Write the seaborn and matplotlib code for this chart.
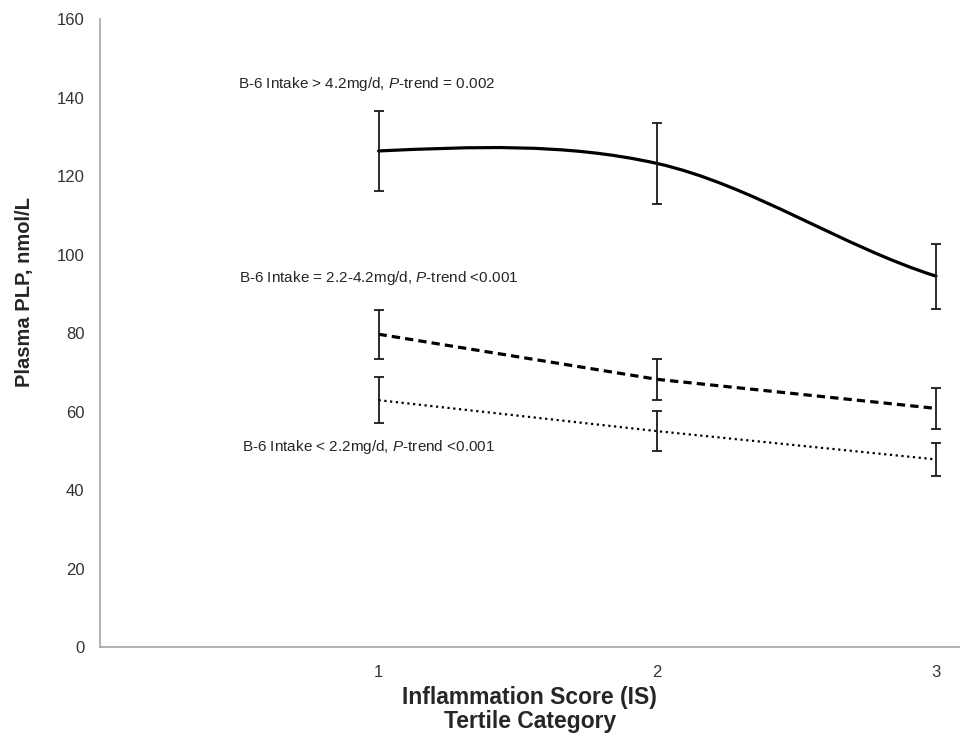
import numpy as np
import pandas as pd
import matplotlib
matplotlib.use("Agg")
import matplotlib.pyplot as plt
from matplotlib.path import Path
from matplotlib.patches import PathPatch
import seaborn as sns

# values (mean, +/- error)
tertile = [1, 2, 3]
high_mean = [126.4, 123.2, 94.5]
high_err = [10.3, 10.2, 8.3]
mid_mean = [79.7, 68.2, 60.8]
mid_err = [6.3, 5.3, 5.2]
low_mean = [62.9, 55.0, 47.8]
low_err = [5.8, 5.1, 4.2]

high_label = "B-6 Intake > 4.2mg/d, $\\mathit{P}$-trend = 0.002"
mid_label = "B-6 Intake = 2.2-4.2mg/d, $\\mathit{P}$-trend <0.001"
low_label = "B-6 Intake < 2.2mg/d, $\\mathit{P}$-trend <0.001"

sns.set_style("white")
plt.rcParams['font.family'] = ['Liberation Sans', 'DejaVu Sans']
plt.rcParams['mathtext.fontset'] = 'custom'
plt.rcParams['mathtext.it'] = 'Liberation Sans:italic'
plt.rcParams['mathtext.rm'] = 'Liberation Sans'

df = pd.DataFrame({
    "tertile": tertile * 3,
    "plp": high_mean + mid_mean + low_mean,
    "group": ["high"] * 3 + ["mid"] * 3 + ["low"] * 3,
})

fig = plt.figure(figsize=(9.6, 7.34), dpi=100)
ax = fig.add_axes([0.104, 0.1185, 0.896, 0.8555])

# smoothed line for the high intake group (natural cubic spline as bezier)
x = np.array(tertile, dtype=float)
y = np.array(high_mean)
M2 = 1.5 * (y[0] - 2 * y[1] + y[2])
s0 = (y[1] - y[0]) - M2 / 6
s1 = (y[1] - y[0]) + M2 / 3
s2 = (y[2] - y[1]) - M2 / 6
slopes = [s0, s1, s2]
verts = [(x[0], y[0])]
codes = [Path.MOVETO]
for i in range(2):
    h = x[i + 1] - x[i]
    verts += [(x[i] + h / 3, y[i] + slopes[i] * h / 3),
              (x[i + 1] - h / 3, y[i + 1] - slopes[i + 1] * h / 3),
              (x[i + 1], y[i + 1])]
    codes += [Path.CURVE4] * 3
ax.add_patch(PathPatch(Path(verts, codes), facecolor="none",
                       edgecolor="black", lw=2.3, capstyle="round"))

sns.lineplot(data=df[df.group == "mid"], x="tertile", y="plp", ax=ax,
             color="black", lw=2.3, dashes=False, legend=False)
ax.lines[-1].set_dashes((2.6, 1.6))
sns.lineplot(data=df[df.group == "low"], x="tertile", y="plp", ax=ax,
             color="black", lw=1.6, legend=False)
ax.lines[-1].set_dashes((1, 1.6))

for m, e in [(high_mean, high_err), (mid_mean, mid_err), (low_mean, low_err)]:
    ax.errorbar(tertile, m, yerr=e, fmt="none", ecolor="#1a1a1a",
                elinewidth=1.3, capsize=3.5, capthick=1.3)

ax.text(0.495, 143.4, high_label, fontsize=11, va="center", ha="left")
ax.text(0.50, 94.0, mid_label, fontsize=11, va="center", ha="left")
ax.text(0.51, 51.0, low_label, fontsize=11, va="center", ha="left")

ax.set_xlim(0, 3.086)
ax.set_ylim(0, 160)
ax.set_xticks(tertile)
ax.set_yticks(range(0, 161, 20))
ax.tick_params(length=0, labelsize=12, colors="#333333", pad=11)
ax.tick_params(axis="x", pad=13)
sns.despine(ax=ax, top=True, right=True)
for s in ["left", "bottom"]:
    ax.spines[s].set_color("#a6a6a6")
    ax.spines[s].set_linewidth(1.2)

ax.set_xlabel("Inflammation Score (IS)\nTertile Category", fontsize=16.5,
              fontweight="bold", labelpad=4, linespacing=1.05)
ax.set_ylabel("Plasma PLP, nmol/L", fontsize=14.5, fontweight="bold")
ax.yaxis.set_label_coords(-0.077, 0.565)

fig.savefig("out.png", dpi=100)
